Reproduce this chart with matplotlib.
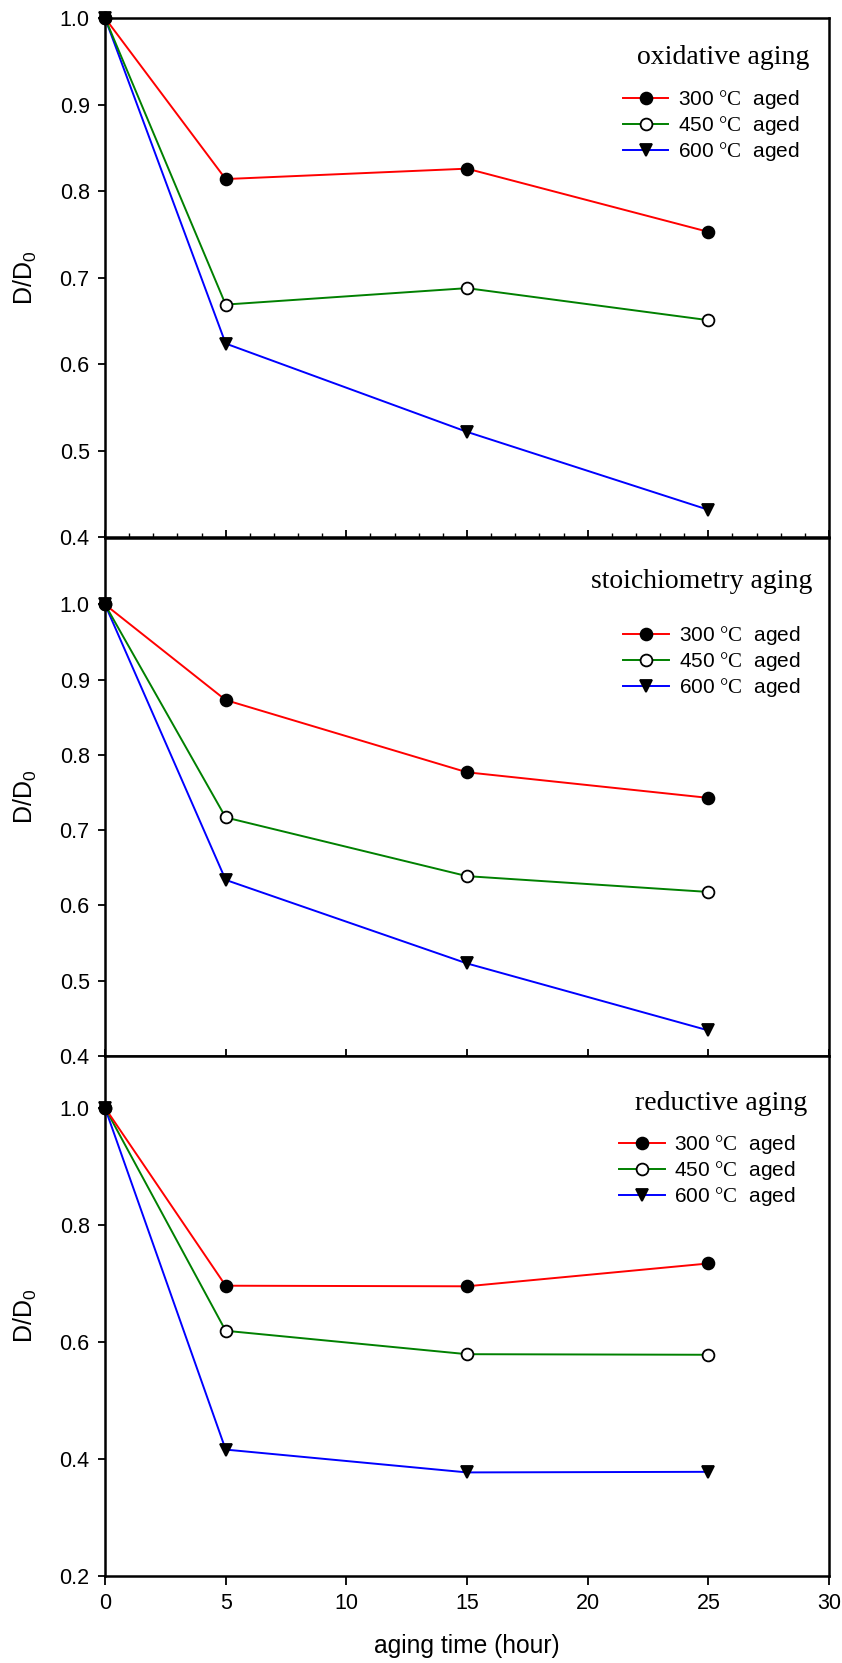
import matplotlib
matplotlib.use("Agg")
import matplotlib.pyplot as plt
from matplotlib.ticker import MultipleLocator

plt.rcParams['font.family'] = ['Liberation Sans', 'DejaVu Sans']
plt.rcParams['mathtext.fontset'] = 'custom'
plt.rcParams['mathtext.rm'] = 'Liberation Serif'
plt.rcParams['mathtext.sf'] = 'Liberation Sans'

# ---- data ----
aging_time = [0, 5, 15, 25]
series_labels = [r"300 $\mathrm{°C}$  aged", r"450 $\mathrm{°C}$  aged", r"600 $\mathrm{°C}$  aged"]
panel_titles = ["oxidative aging", "stoichiometry aging", "reductive aging"]

oxidative_300 = [1.0, 0.814, 0.826, 0.753]
oxidative_450 = [1.0, 0.669, 0.688, 0.651]
oxidative_600 = [1.0, 0.624, 0.522, 0.432]

stoich_300 = [1.0, 0.873, 0.777, 0.743]
stoich_450 = [1.0, 0.717, 0.639, 0.618]
stoich_600 = [1.0, 0.634, 0.523, 0.434]

reductive_300 = [1.0, 0.696, 0.695, 0.734]
reductive_450 = [1.0, 0.619, 0.579, 0.578]
reductive_600 = [1.0, 0.416, 0.377, 0.378]

xticks = [0, 5, 10, 15, 20, 25, 30]
yticks_top = [0.4, 0.5, 0.6, 0.7, 0.8, 0.9, 1.0]
yticks_mid = [0.4, 0.5, 0.6, 0.7, 0.8, 0.9, 1.0]
yticks_bot = [0.2, 0.4, 0.6, 0.8, 1.0]

panels = [
    (oxidative_300, oxidative_450, oxidative_600),
    (stoich_300, stoich_450, stoich_600),
    (reductive_300, reductive_450, reductive_600),
]

# ---- layout ----
W, H = 842, 1663
fig = plt.figure(figsize=(W / 100, H / 100), dpi=100)
left_px, right_px = 105, 829
bounds_px = [(18, 537.5), (537.5, 1056), (1056, 1576)]
ylims = [(0.4, 1.0), (0.4, 1.089), (0.2, 1.0885)]
yticks_all = [yticks_top, yticks_mid, yticks_bot]
title_pos = [(0.9724, 0.9122), (0.9765, 0.9026), (0.9696, 0.8952)]
legend_pos = [(0.715, 0.7927), (0.716, 0.7605), (0.710, 0.7792)]

colors = ['#ff0000', '#008000', '#0000ff']
markers = ['o', 'o', 'v']
mfcs = ['black', 'white', 'black']

for i, (top, bot) in enumerate(bounds_px):
    ax = fig.add_axes([left_px / W, 1 - bot / H, (right_px - left_px) / W, (bot - top) / H])
    data = panels[i]
    handles = []
    for j in range(3):
        h, = ax.plot(aging_time, data[j], color=colors[j], lw=1.4, marker=markers[j],
                     markersize=8.5, markerfacecolor=mfcs[j], markeredgecolor='black',
                     markeredgewidth=1.3, clip_on=False, zorder=5 - j,
                     label=series_labels[j])
        handles.append(h)
    ax.set_xlim(0, 30)
    ax.set_ylim(*ylims[i])
    ax.set_yticks(yticks_all[i])
    ax.set_yticklabels([f"{v:.1f}" for v in yticks_all[i]])
    ax.set_xticks(xticks)
    for sp in ax.spines.values():
        sp.set_linewidth(1.8)
    ax.tick_params(axis='y', direction='out', length=5, width=1.3, labelsize=15.5, pad=6)
    if i < 2:
        ax.tick_params(axis='x', direction='in', length=5, width=1.3, labelbottom=False)
    else:
        ax.tick_params(axis='x', direction='out', length=6.5, width=1.3, labelsize=15.5, pad=6)
        ax.set_xticklabels([str(v) for v in xticks])
        ax.set_xlabel("aging time (hour)", fontsize=17.7, labelpad=14)
    if i == 0:
        ax.xaxis.set_minor_locator(MultipleLocator(1))
        ax.tick_params(axis='x', which='minor', direction='in', length=3, width=1.0)
    ax.set_ylabel(r"$\mathsf{D/D}_\mathsf{0}$", fontsize=18)
    ax.yaxis.set_label_coords(-0.091, 0.5)
    ax.text(title_pos[i][0], title_pos[i][1], panel_titles[i], transform=ax.transAxes,
            ha='right', va='baseline', fontsize=20, family=['Liberation Serif', 'DejaVu Serif'])
    ax.legend(handles=handles, loc='center left', bbox_to_anchor=legend_pos[i],
              frameon=False, fontsize=15, handlelength=2.2, handletextpad=0.45,
              labelspacing=0.15, borderpad=0, borderaxespad=0)

fig.savefig("out.png", dpi=100)
